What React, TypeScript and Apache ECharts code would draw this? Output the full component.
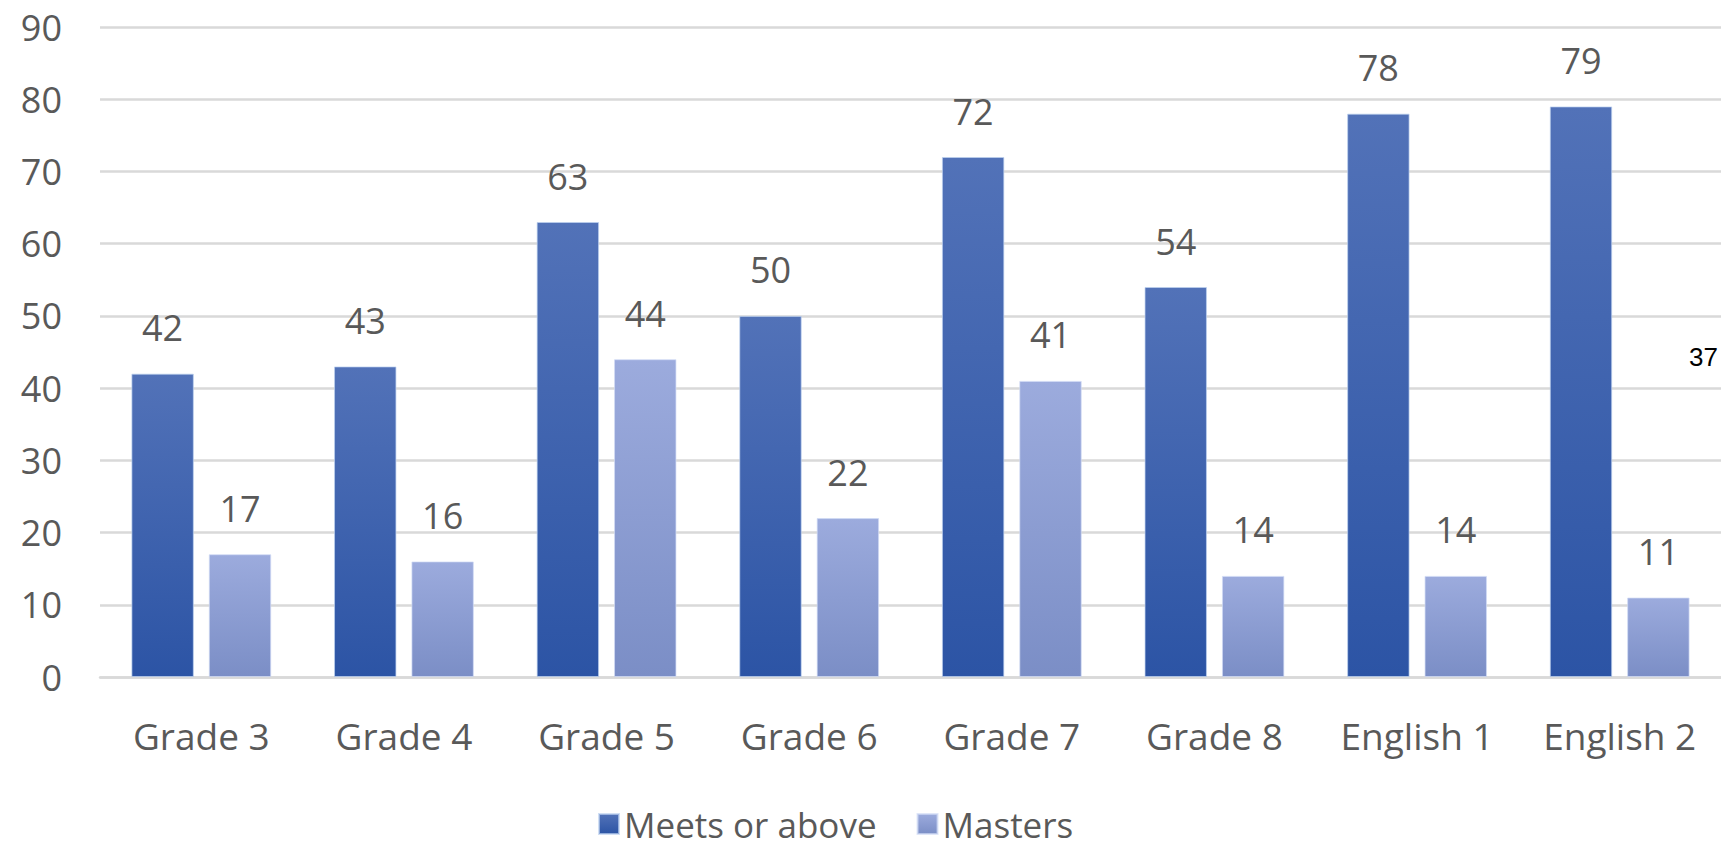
import React, { useEffect, useRef } from "react";
import * as echarts from "echarts";

const categories = ["Grade 3", "Grade 4", "Grade 5", "Grade 6", "Grade 7", "Grade 8", "English 1", "English 2"];
const meetsOrAbove = [42, 43, 63, 50, 72, 54, 78, 79];
const masters = [17, 16, 44, 22, 41, 14, 14, 11];
const seriesNames = ["Meets or above", "Masters"];
const strayLabel = "37";

const FONT = "'Open Sans', 'Noto Sans', sans-serif";
const TEXT = "#595959";

export default function App() {
  const ref = useRef<HTMLDivElement>(null);
  useEffect(() => {
    if (!ref.current) return;
    const chart = echarts.init(ref.current, null, { renderer: "svg" });
    const grad = (top: string, bottom: string) =>
      new echarts.graphic.LinearGradient(0, 0, 0, 1, [
        { offset: 0, color: top },
        { offset: 1, color: bottom },
      ]);
    const labelCfg = {
      show: true,
      position: "top",
      distance: 26,
      color: TEXT,
      fontSize: 36,
      fontFamily: FONT,
      lineHeight: 40,
    };
    chart.setOption({
      animation: false,
      backgroundColor: "#ffffff",
      textStyle: { fontFamily: FONT },
      grid: { left: 100, right: 0, top: 27, bottom: 173, containLabel: false },
      legend: {
        data: seriesNames,
        left: 598,
        top: 806,
        padding: 0,
        itemWidth: 20,
        itemHeight: 20,
        itemGap: 40,
        icon: "rect",
        textStyle: { color: TEXT, fontSize: 35, fontFamily: FONT, lineHeight: 36 },
      },
      xAxis: {
        type: "category",
        data: categories,
        axisLine: { show: true, lineStyle: { color: "#d9d9d9", width: 2.5 } },
        axisTick: { show: false },
        axisLabel: { color: TEXT, fontSize: 37, fontFamily: FONT, margin: 38, lineHeight: 40 },
      },
      yAxis: {
        type: "value",
        min: 0,
        max: 90,
        interval: 10,
        axisLine: { show: false },
        axisTick: { show: false },
        axisLabel: { color: TEXT, fontSize: 36, fontFamily: FONT, margin: 38 },
        splitLine: { lineStyle: { color: "#d9d9d9", width: 2.5 } },
      },
      series: [
        {
          name: seriesNames[0],
          type: "bar",
          data: meetsOrAbove,
          barGap: "24%",
          barCategoryGap: "31%",
          itemStyle: { color: grad("#5272b8", "#2c54a5"), borderColor: "rgba(190,210,240,0.7)", borderWidth: 1 },
          label: labelCfg,
        },
        {
          name: seriesNames[1],
          type: "bar",
          data: masters,
          itemStyle: { color: grad("#9cabdd", "#7b8ec6"), borderColor: "rgba(210,220,245,0.7)", borderWidth: 1 },
          label: labelCfg,
        },
      ],
      graphic: [
        {
          type: "text",
          right: 3,
          top: 344,
          style: { text: strayLabel, fill: "#000000", fontSize: 26, fontFamily: "'Liberation Sans', Arial, sans-serif" },
        },
      ],
    });
    return () => chart.dispose();
  }, []);
  return <div ref={ref} style={{ position: "absolute", left: 0, top: 0, width: 1721, height: 850 }} />;
}
